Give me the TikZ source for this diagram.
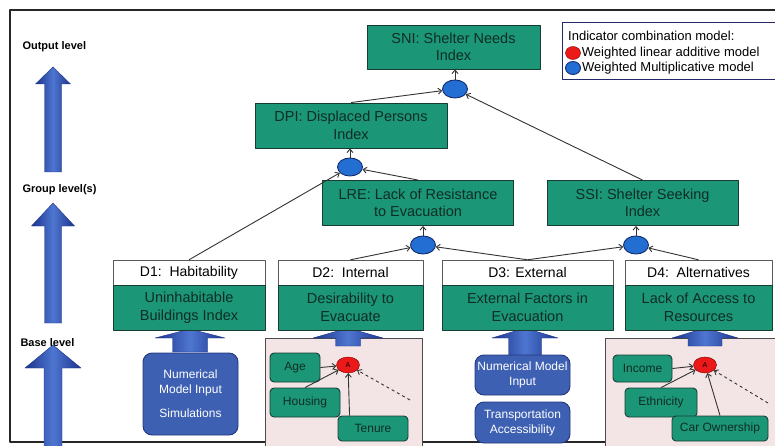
\documentclass[tikz,border=0pt]{standalone}
\usepackage{fontspec}
\setmainfont{Liberation Sans}
\usetikzlibrary{arrows.meta,shapes.geometric}
\definecolor{boxgreen}{RGB}{27,150,118}
\definecolor{boxedge}{RGB}{25,60,50}
\definecolor{greentext}{RGB}{15,45,38}
\definecolor{ovalblue}{RGB}{35,110,210}
\definecolor{ovaledge}{RGB}{20,45,110}
\definecolor{addred}{RGB}{235,25,25}
\definecolor{inputblue}{RGB}{62,96,178}
\definecolor{inputedge}{RGB}{35,55,125}
\definecolor{arrowdark}{RGB}{28,52,140}
\definecolor{arrowlight}{RGB}{78,118,208}
\definecolor{panelpink}{RGB}{243,229,229}
\definecolor{legendedge}{RGB}{35,40,105}

\begin{document}
\begin{tikzpicture}[x=1pt, y=-1pt, line join=round, >={Straight Barb[length=3.5pt,width=6pt]},
	indexbox/.style={draw=boxedge, fill=boxgreen, text=greentext, align=center, inner sep=0pt, line width=0.9pt, font=\fontsize{14.5}{17.5}\selectfont},
	dheader/.style={draw=gray!70!black, fill=white, inner sep=0pt, minimum height=25pt, font=\fontsize{14}{16}\selectfont},
	combo/.style={ellipse, draw=ovaledge, fill=ovalblue, minimum width=25pt, minimum height=18pt, inner sep=0pt, line width=0.9pt},
	addnode/.style={ellipse, draw=red!50!black, fill=addred, minimum width=23pt, minimum height=16pt, inner sep=0pt, font=\fontsize{7}{7}\selectfont},
	inputbox/.style={draw=inputedge, fill=inputblue, text=white, rounded corners=9pt, align=center, inner sep=0pt, line width=0.9pt, font=\fontsize{12}{15}\selectfont},
	factorbox/.style={draw=boxedge, fill=boxgreen, text=greentext, rounded corners=4pt, inner sep=0pt, line width=0.9pt, font=\fontsize{12}{14}\selectfont},
	fatarrow/.style={left color=arrowdark, right color=arrowdark, middle color=arrowlight, draw=arrowdark},
	levellabel/.style={anchor=west, font=\bfseries\fontsize{11}{13}\selectfont},
	legendtext/.style={anchor=west, inner sep=1pt, font=\fontsize{13}{15}\selectfont},
	link/.style={->, draw=black!80, line width=0.9pt}]
	\useasboundingbox (0,0) rectangle (775,446);
	\clip (0,0) rectangle (775,446);
	\fill[white] (0,0) rectangle (775,446);
	\draw[line width=1.6pt, black!85] (780,10) -- (10,10) -- (10,442) -- (780,442);

	\draw[draw=black!70, fill=panelpink, line width=1pt] (265,338) rectangle (422,452);
	\draw[draw=black!70, fill=panelpink, line width=1pt] (605,338) rectangle (790,452);

	\foreach \x/\yb/\yt/\s/\h/\d in {53/172/67/8.5/17.5/17, 53/323/203/8.5/21.5/23, 53/450/345/9/28/23,
		190/352/329/17.5/35/9, 348/346/328/12.5/35/10, 525/356/328/16.5/33/10, 705/346/328/17/33/10}
	\shade[fatarrow] (\x-\s,\yb) -- (\x-\s,\yt+\d) -- (\x-\h,\yt+\d) -- (\x,\yt) -- (\x+\h,\yt+\d) -- (\x+\s,\yt+\d) -- (\x+\s,\yb) -- cycle;

	\node[levellabel] (outlvl) at (19,47) {Output level};
	\node[levellabel] (grouplvl) at (19,190) {Group level(s)};
	\node[levellabel] (baselvl) at (17,343) {Base level};

	\node[indexbox, minimum width=173pt, minimum height=44pt] (sni) at (453.5,47) {SNI: Shelter Needs\\Index};
	\node[indexbox, minimum width=192pt, minimum height=45pt] (dpi) at (351,125.5) {DPI: Displaced Persons\\Index};
	\node[indexbox, minimum width=191pt, minimum height=45pt] (lre) at (418,203) {LRE: Lack of Resistance\\to Evacuation};
	\node[indexbox, minimum width=191pt, minimum height=45pt] (ssi) at (642.5,203) {SSI: Shelter Seeking\\Index};

	\node[combo] (snio) at (455,89) {};
	\node[combo] (dpio) at (350,167) {};
	\node[combo] (lreo) at (423,245) {};
	\node[combo] (ssio) at (636,245) {};

	\foreach \n/\x/\w/\d/\t in {1/189/152/{D1:\ \ Habitability}/{Uninhabitable\\Buildings Index},
		2/350.5/145/{D2:\ \ Internal}/{Desirability to\\Evacuate},
		3/527.5/171/{D3: External}/{External Factors in\\Evacuation},
		4/698.5/147/{D4:\ \ Alternatives}/{Lack of Access to\\Resources}}
	{\node[dheader, minimum width=\w pt] (h\n) at (\x,272.5) {\d};
	\node[indexbox, minimum width=\w pt, minimum height=45pt] (d\n) at (\x,307.5) {\t};}

	\draw[draw=legendedge, fill=white, line width=1pt] (562,23) rectangle (785,80);
	\node[legendtext] (legtitle) at (567,36) {Indicator combination model:};
	\node[addnode, minimum width=15pt, minimum height=13pt] (legadd) at (573,53) {};
	\node[legendtext] (legaddtext) at (legadd.east) {Weighted linear additive model};
	\node[combo, minimum width=15pt, minimum height=13pt] (legmul) at (573,68) {};
	\node[legendtext] (legmultext) at (legmul.east) {Weighted Multiplicative model};

	\node[inputbox, minimum width=95pt, minimum height=82pt] (num1) at (190.5,394) {Numerical\\Model Input\\[9pt]Simulations};
	\node[inputbox, minimum width=95pt, minimum height=40pt] (num3) at (522.5,375) {Numerical Model\\Input};
	\node[inputbox, minimum width=95pt, minimum height=41pt] (trans) at (522.5,422.5) {Transportation\\Accessibility};

	\node[factorbox, minimum width=50pt, minimum height=29pt] (age) at (295,367.5) {Age};
	\node[factorbox, minimum width=70pt, minimum height=29pt] (housing) at (305,402.5) {Housing};
	\node[factorbox, minimum width=70pt, minimum height=25pt] (tenure) at (373,428.5) {Tenure};
	\node[addnode] (add2) at (348,365) {A};
	\coordinate (dash2) at (410,400);
	\node[factorbox, minimum width=59pt, minimum height=27pt] (income) at (642.5,368.5) {Income};
	\node[factorbox, minimum width=72pt, minimum height=29pt] (ethnicity) at (661,402.5) {Ethnicity};
	\node[factorbox, minimum width=96pt, minimum height=25pt] (carown) at (720,428.5) {Car Ownership};
	\node[addnode] (add4) at (705,365) {A};
	\coordinate (dash4) at (768,403);

	\draw[link] (h1.north) -- (dpio);
	\draw[link] (h2.north) -- (lreo);
	\draw[link] (h3.north) -- (lreo);
	\draw[link] (h3.north) -- (ssio);
	\draw[link] (h4.north) -- (ssio);
	\draw[link] (lre.north) -- (dpio);
	\draw[link] (dpi.north) -- (snio);
	\draw[link] (ssi.north) -- (snio);
	\draw[link] (lreo) -- (lreo |- lre.south);
	\draw[link] (ssio) -- (ssio |- ssi.south);
	\draw[link] (dpio) -- (dpio |- dpi.south);
	\draw[link] (snio) -- (snio |- sni.south);

	\draw[link] (age.east) -- (add2);
	\draw[link] (housing.north) -- (add2);
	\draw[link] ([xshift=12pt]tenure.north west) -- (add2);
	\draw[link, dashed] (dash2) -- (add2);
	\draw[link] (income.east) -- (add4);
	\draw[link] (ethnicity.north) -- (add4);
	\draw[link] (carown.north) -- (add4);
	\draw[link, dashed] (dash4) -- (add4);
\end{tikzpicture}
\end{document}
